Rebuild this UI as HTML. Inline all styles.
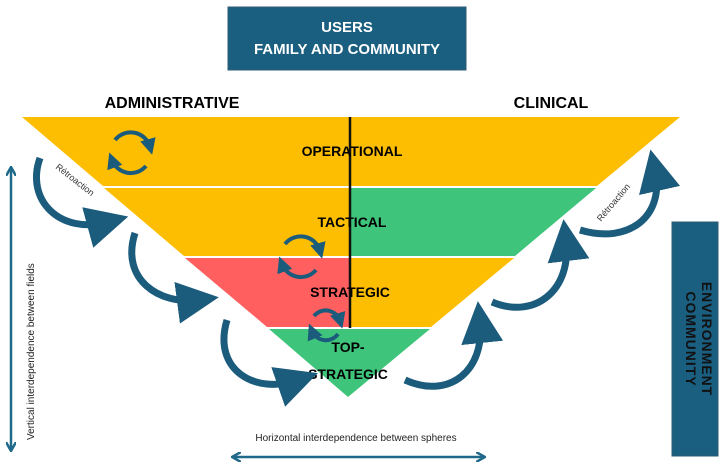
<!DOCTYPE html>
<html><head><meta charset="utf-8"><style>
body{margin:0;width:727px;height:471px;background:#fff;overflow:hidden;font-family:"Liberation Sans",sans-serif}
</style></head><body>
<svg width="727" height="471" viewBox="0 0 727 471" xmlns="http://www.w3.org/2000/svg" font-family="Liberation Sans, sans-serif">
<defs>
<marker id="ah" markerWidth="6" markerHeight="6" refX="3" refY="3" orient="auto" markerUnits="strokeWidth"><path d="M0,0 L6,3 L0,6 z" fill="#1b5b7c"/></marker>
<marker id="bh" markerWidth="4" markerHeight="4" refX="2" refY="2" orient="auto" markerUnits="strokeWidth"><path d="M0,0 L4,2 L0,4 z" fill="#1b5b7c"/></marker>
<marker id="la" markerWidth="10" markerHeight="10" refX="8" refY="5" orient="auto" markerUnits="userSpaceOnUse"><path d="M0,0 L9,5 L0,10" fill="none" stroke="#1f6a8a" stroke-width="2.5"/></marker>
<marker id="lb" markerWidth="10" markerHeight="10" refX="2" refY="5" orient="auto" markerUnits="userSpaceOnUse"><path d="M10,0 L1,5 L10,10" fill="none" stroke="#1f6a8a" stroke-width="2.5"/></marker>
</defs>
<!-- top box -->
<rect x="228" y="7" width="238" height="63" fill="#1a5e80" stroke="#2d5d75"/>
<text x="347" y="32" font-size="15" font-weight="bold" fill="#fff" text-anchor="middle">USERS</text>
<text x="347" y="54" font-size="15" font-weight="bold" fill="#fff" text-anchor="middle">FAMILY AND COMMUNITY</text>
<text x="172" y="108" font-size="16" font-weight="bold" text-anchor="middle">ADMINISTRATIVE</text>
<text x="551" y="108" font-size="16" font-weight="bold" text-anchor="middle">CLINICAL</text>
<!-- bands -->
<polygon points="22,117 350,117 350,186 103,186" fill="#fdbd00"/>
<polygon points="350,117 680,117 597,186 350,186" fill="#fdbd00"/>
<polygon points="104,188 350,188 350,256 184,256" fill="#fdbd00"/>
<polygon points="350,188 596,188 515,256 350,256" fill="#3fc47b"/>
<polygon points="185,258 350,258 350,327 267,327" fill="#ff5f5f"/>
<polygon points="350,258 514,258 431,327 350,327" fill="#fdbd00"/>
<polygon points="269,329 430,329 348,397" fill="#3fc47b"/>
<line x1="350" y1="117" x2="350" y2="328" stroke="#111" stroke-width="2.5"/>
<g font-size="14" font-weight="bold" text-anchor="middle">
<text x="352" y="156">OPERATIONAL</text>
<text x="352" y="227">TACTICAL</text>
<text x="350" y="297">STRATEGIC</text>
<text x="348" y="352">TOP-</text>
<text x="348" y="379">STRATEGIC</text>
</g>
<!-- cycle icons -->
<g fill="none" stroke="#1b5b7c" stroke-width="4">
<path d="M115,140 A20,20 0 0 1 150,147" marker-end="url(#bh)"/>
<path d="M146,166 A20,20 0 0 1 112,160" marker-end="url(#bh)"/>
<path d="M285,244 A20,20 0 0 1 320,251" marker-end="url(#bh)"/>
<path d="M316,270 A20,20 0 0 1 282,264" marker-end="url(#bh)"/>
<path d="M314,316 A15,15 0 0 1 340,321" marker-end="url(#bh)"/>
<path d="M338,334 A15,15 0 0 1 312,331" marker-end="url(#bh)"/>
</g>
<!-- curved arrows -->
<g fill="none" stroke="#1b5b7c" stroke-width="7" stroke-linecap="butt">
<path d="M40,158 C25,200 60,235 108,222" marker-end="url(#ah)"/>
<path d="M135,233 C120,280 160,305 198,300" marker-end="url(#ah)"/>
<path d="M227,320 C212,370 255,395 298,380" marker-end="url(#ah)"/>
<path d="M405,380 C450,400 485,370 480,322" marker-end="url(#ah)"/>
<path d="M492,302 C535,320 572,290 566,240" marker-end="url(#ah)"/>
<path d="M580,230 C630,245 665,215 655,170" marker-end="url(#ah)"/>
</g>
<text transform="translate(55,168) rotate(38)" font-size="9" fill="#333">Rétroaction</text>
<text transform="translate(601,222) rotate(-50)" font-size="9" fill="#333">Rétroaction</text>
<!-- vertical arrow -->
<line x1="11" y1="168" x2="11" y2="450" stroke="#1f6a8a" stroke-width="2.5" marker-start="url(#lb)" marker-end="url(#la)"/>
<text transform="translate(34,440) rotate(-90)" font-size="10" fill="#222">Vertical interdependence between fields</text>
<!-- horizontal arrow -->
<line x1="233" y1="457" x2="484" y2="457" stroke="#1f6a8a" stroke-width="2.5" marker-start="url(#lb)" marker-end="url(#la)"/>
<text x="356" y="441" font-size="10" fill="#222" text-anchor="middle">Horizontal interdependence between spheres</text>
<!-- right box -->
<rect x="672" y="222" width="46" height="234" fill="#1a5e80" stroke="#2d5d75"/>
<text transform="translate(702,339) rotate(90)" font-size="14" font-weight="bold" fill="#111" text-anchor="middle" letter-spacing="1">ENVIRONMENT</text>
<text transform="translate(686,339) rotate(90)" font-size="14" font-weight="bold" fill="#111" text-anchor="middle" letter-spacing="1">COMMUNITY</text>
</svg>
</body></html>
